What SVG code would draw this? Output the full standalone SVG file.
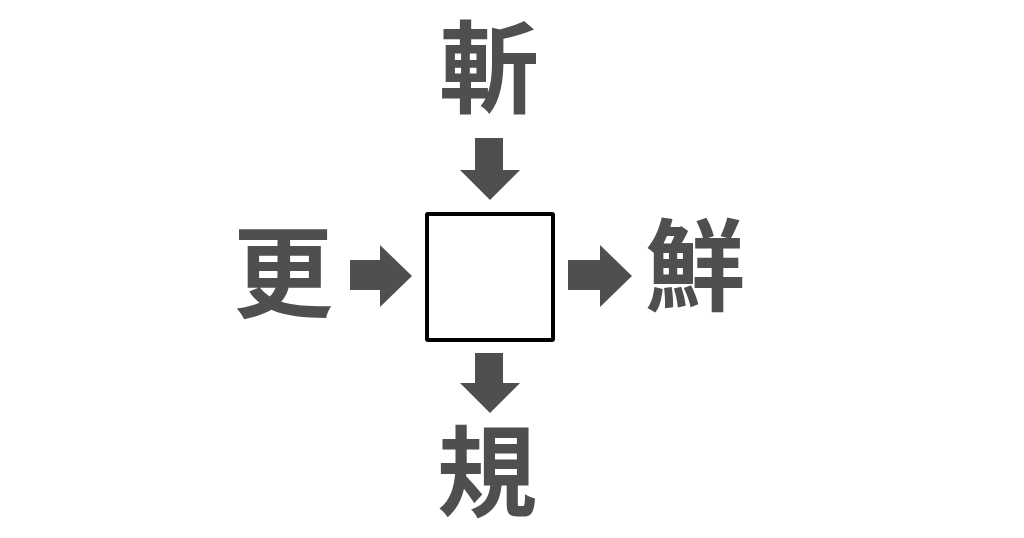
<svg xmlns="http://www.w3.org/2000/svg" width="1024" height="538" viewBox="0 0 1024 538">
<style>
.ch{font-family:"Noto Sans CJK JP","Noto Sans CJK SC",sans-serif;font-weight:bold;font-size:100px;fill:#4f4f4f;text-anchor:middle}
.ar{fill:#4f4f4f}
</style>
<rect width="1024" height="538" fill="#ffffff"/>
<g id="top"><text class="ch" x="489" y="105">斬</text></g>
<g id="left"><text class="ch" x="283" y="310">更</text></g>
<g id="right"><text class="ch" x="695" y="303">鮮</text></g>
<g id="bottom"><text class="ch" x="487" y="509">規</text></g>
<g id="center"><rect x="427" y="214" width="126" height="126" fill="#ffffff" stroke="#000000" stroke-width="4" rx="1"/></g>
<g id="connectors">
<polygon class="ar" points="475,138 503,138 503,170 520,170 490,200 460,170 475,170"/>
<polygon class="ar" points="350,260 380,260 380,245 412,276 380,307 380,290 350,290"/>
<polygon class="ar" points="568,260 600,260 600,245 632,276 600,307 600,290 568,290"/>
<polygon class="ar" points="475,353 503,353 503,383 520,383 490,413 460,383 475,383"/>
</g>
</svg>
